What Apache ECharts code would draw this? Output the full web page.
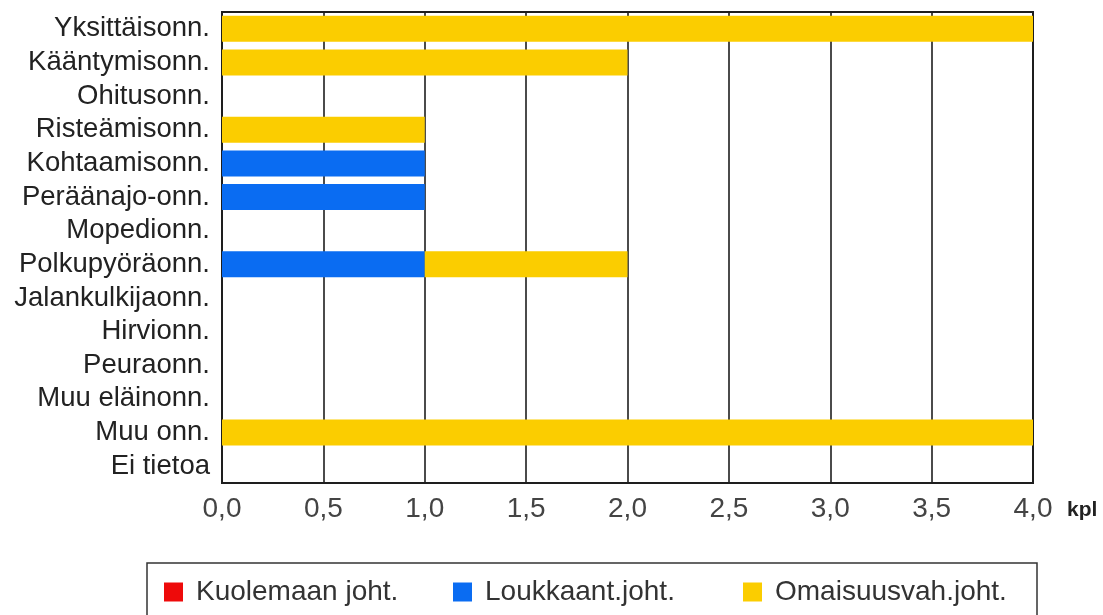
<!DOCTYPE html>
<html>
<head>
<meta charset="utf-8">
<title>Onnettomuudet luokittain</title>
<script src="https://cdn.jsdelivr.net/npm/echarts@6/dist/echarts.min.js"></script>
<style>
  html, body { margin: 0; padding: 0; background: #ffffff; }
  #chart { width: 1103px; height: 615px; }
</style>
</head>
<body>
<div id="chart"></div>
<script>
// Onnettomuusluokat (ylhäältä alas)
const categories = [
  'Yksittäisonn.', 'Kääntymisonn.', 'Ohitusonn.', 'Risteämisonn.',
  'Kohtaamisonn.', 'Peräänajo-onn.', 'Mopedionn.', 'Polkupyöräonn.',
  'Jalankulkijaonn.', 'Hirvionn.', 'Peuraonn.', 'Muu eläinonn.',
  'Muu onn.', 'Ei tietoa'
];

// Onnettomuuksien lukumäärät vakavuuden mukaan (kpl)
const kuolemaanJoht   = [0, 0, 0, 0, 0, 0, 0, 0, 0, 0, 0, 0, 0, 0];
const loukkaantJoht   = [0, 0, 0, 0, 1, 1, 0, 1, 0, 0, 0, 0, 0, 0];
const omaisuusvahJoht = [4, 2, 0, 1, 0, 0, 0, 1, 0, 0, 0, 0, 4, 0];

const seriesNames = ['Kuolemaan joht.', 'Loukkaant.joht.', 'Omaisuusvah.joht.'];
const seriesColors = ['#ee0a0a', '#0a6cf2', '#fbcd00'];

const xMin = 0, xMax = 4, xStep = 0.5;
const unitLabel = 'kpl';

const FONT = '"Liberation Sans", Arial, sans-serif';

const chart = echarts.init(document.getElementById('chart'), null, { renderer: 'canvas' });

function legendAt(name, left) {
  return {
    data: [name],
    left: left,
    top: 578,
    padding: 0,
    icon: 'rect',
    itemWidth: 19,
    itemHeight: 19,
    selectedMode: false,
    textStyle: {
      fontFamily: FONT,
      fontSize: 28,
      color: '#333333',
      padding: [0, 0, 0, 8]
    }
  };
}

const option = {
  backgroundColor: '#ffffff',
  animation: false,
  color: seriesColors,
  grid: {
    left: 222,
    right: 70,
    top: 12,
    bottom: 132,
    containLabel: false,
    show: true,
    borderColor: '#1e1e1e',
    borderWidth: 2,
    backgroundColor: 'transparent'
  },
  xAxis: {
    type: 'value',
    min: xMin,
    max: xMax,
    interval: xStep,
    name: unitLabel,
    nameLocation: 'end',
    nameGap: 34,
    nameTextStyle: {
      fontFamily: FONT,
      fontSize: 21,
      fontWeight: 'bold',
      color: '#222222',
      verticalAlign: 'top',
      padding: [17, 0, 0, 0]
    },
    axisLine: { show: true, lineStyle: { color: '#1e1e1e', width: 2 } },
    axisTick: { show: false },
    splitLine: { show: true, lineStyle: { color: '#1e1e1e', width: 1.6 } },
    axisLabel: {
      fontFamily: FONT,
      fontSize: 28,
      color: '#444444',
      margin: 12,
      formatter: v => v.toFixed(1).replace('.', ',')
    }
  },
  yAxis: {
    type: 'category',
    data: categories,
    inverse: true,
    axisLine: { show: true, lineStyle: { color: '#1e1e1e', width: 2 } },
    axisTick: { show: false },
    splitLine: { show: false },
    axisLabel: {
      interval: 0,
      fontFamily: FONT,
      fontSize: 27.5,
      color: '#222222',
      margin: 12
    }
  },
  legend: [
    legendAt(seriesNames[0], 164),
    legendAt(seriesNames[1], 453),
    legendAt(seriesNames[2], 743)
  ],
  graphic: [
    {
      type: 'rect',
      silent: true,
      shape: { x: 147, y: 563, width: 890, height: 70 },
      style: { fill: 'none', stroke: '#333333', lineWidth: 1.5 }
    }
  ],
  series: [
    { name: seriesNames[0], type: 'bar', stack: 'kpl', barWidth: 26, data: kuolemaanJoht },
    { name: seriesNames[1], type: 'bar', stack: 'kpl', barWidth: 26, data: loukkaantJoht },
    { name: seriesNames[2], type: 'bar', stack: 'kpl', barWidth: 26, data: omaisuusvahJoht }
  ]
};

chart.setOption(option);
</script>
</body>
</html>
